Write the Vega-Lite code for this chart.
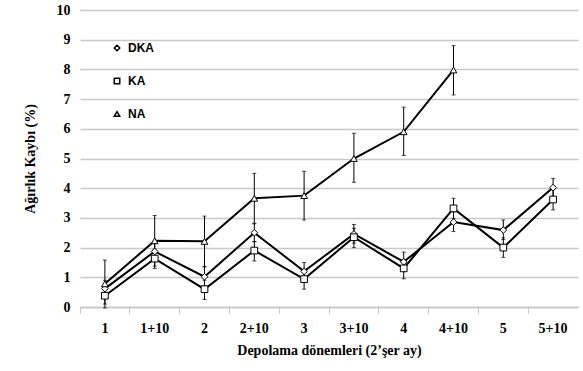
{
  "$schema": "https://vega.github.io/schema/vega-lite/v6.json",
  "width": 498,
  "height": 297,
  "autosize": "none",
  "padding": {"left": 80, "top": 10, "right": 5, "bottom": 64},
  "background": "white",
  "config": {
    "view": {"stroke": null},
    "axis": {"labelFont": "Liberation Serif", "titleFont": "Liberation Serif", "labelFontWeight": "bold", "titleFontWeight": "bold", "labelColor": "black", "titleColor": "black", "labelFontSize": 14, "titleFontSize": 14}
  },
  "data": {
    "values": [
      {"cat": "1", "series": "DKA", "v": 0.62, "lo": 0.35, "hi": 0.9},
      {"cat": "1+10", "series": "DKA", "v": 1.87, "lo": 1.55, "hi": 2.15},
      {"cat": "2", "series": "DKA", "v": 1.02, "lo": 0.72, "hi": 1.35},
      {"cat": "2+10", "series": "DKA", "v": 2.5, "lo": 2.2, "hi": 2.8},
      {"cat": "3", "series": "DKA", "v": 1.2, "lo": 0.9, "hi": 1.5},
      {"cat": "3+10", "series": "DKA", "v": 2.46, "lo": 2.15, "hi": 2.78},
      {"cat": "4", "series": "DKA", "v": 1.52, "lo": 1.2, "hi": 1.85},
      {"cat": "4+10", "series": "DKA", "v": 2.86, "lo": 2.54, "hi": 3.2},
      {"cat": "5", "series": "DKA", "v": 2.59, "lo": 2.27, "hi": 2.93},
      {"cat": "5+10", "series": "DKA", "v": 4.02, "lo": 3.7, "hi": 4.33},
      {"cat": "1", "series": "KA", "v": 0.38, "lo": 0.1, "hi": 0.65},
      {"cat": "1+10", "series": "KA", "v": 1.63, "lo": 1.3, "hi": 1.95},
      {"cat": "2", "series": "KA", "v": 0.6, "lo": 0.25, "hi": 0.9},
      {"cat": "2+10", "series": "KA", "v": 1.9, "lo": 1.55, "hi": 2.2},
      {"cat": "3", "series": "KA", "v": 0.94, "lo": 0.6, "hi": 1.25},
      {"cat": "3+10", "series": "KA", "v": 2.35, "lo": 2.0, "hi": 2.65},
      {"cat": "4", "series": "KA", "v": 1.3, "lo": 0.95, "hi": 1.6},
      {"cat": "4+10", "series": "KA", "v": 3.32, "lo": 2.98, "hi": 3.66},
      {"cat": "5", "series": "KA", "v": 2.0, "lo": 1.67, "hi": 2.33},
      {"cat": "5+10", "series": "KA", "v": 3.62, "lo": 3.27, "hi": 3.95},
      {"cat": "1", "series": "NA", "v": 0.78, "lo": -0.03, "hi": 1.58},
      {"cat": "1+10", "series": "NA", "v": 2.23, "lo": 1.38, "hi": 3.08},
      {"cat": "2", "series": "NA", "v": 2.21, "lo": 1.36, "hi": 3.06},
      {"cat": "2+10", "series": "NA", "v": 3.66, "lo": 2.82, "hi": 4.5},
      {"cat": "3", "series": "NA", "v": 3.75, "lo": 2.93, "hi": 4.57},
      {"cat": "3+10", "series": "NA", "v": 5.0, "lo": 4.2, "hi": 5.85},
      {"cat": "4", "series": "NA", "v": 5.9, "lo": 5.1, "hi": 6.73},
      {"cat": "4+10", "series": "NA", "v": 7.98, "lo": 7.14, "hi": 8.8}
    ]
  },
  "encoding": {
    "x": {
      "field": "cat", "type": "ordinal", "sort": null,
      "scale": {"type": "band", "paddingInner": 0, "paddingOuter": 0},
      "axis": {"title": "Depolama dönemleri (2’şer ay)", "labelAngle": 0, "bandPosition": 0, "tickColor": "#c8c8c8", "tickSize": 6, "domainColor": "#c8c8c8", "domainWidth": 1.5, "labelPadding": 8, "titlePadding": 8, "grid": false}
    }
  },
  "layer": [
    {
      "mark": {"type": "rule", "color": "black", "strokeWidth": 1},
      "encoding": {
        "y": {"field": "lo", "type": "quantitative", "scale": {"domain": [0, 10]}, "axis": {"title": "Ağırlık Kaybı (%)", "tickCount": 10, "ticks": false, "domain": false, "gridColor": "#c8c8c8", "gridWidth": 1.5, "labelPadding": 10, "titlePadding": 19}},
        "y2": {"field": "hi"}
      }
    },
    {
      "mark": {"type": "tick", "color": "black", "size": 4, "thickness": 1},
      "encoding": {"y": {"field": "lo", "type": "quantitative"}}
    },
    {
      "mark": {"type": "tick", "color": "black", "size": 4, "thickness": 1},
      "encoding": {"y": {"field": "hi", "type": "quantitative"}}
    },
    {
      "mark": {"type": "line", "color": "black", "strokeWidth": 2},
      "encoding": {
        "y": {"field": "v", "type": "quantitative"},
        "detail": {"field": "series"}
      }
    },
    {
      "mark": {"type": "point", "filled": true, "fill": "white", "stroke": "black", "strokeWidth": 1, "size": 45, "opacity": 1},
      "encoding": {
        "y": {"field": "v", "type": "quantitative"},
        "shape": {
          "field": "series", "type": "nominal",
          "scale": {"domain": ["DKA", "KA", "NA"], "range": ["diamond", "square", "triangle-up"]},
          "legend": {"title": null, "orient": "none", "legendX": 31, "legendY": 32, "labelFont": "Liberation Sans", "labelFontWeight": "bold", "labelFontSize": 12, "labelColor": "black", "symbolSize": 30, "rowPadding": 21, "labelOffset": 5,
            "encode": {"symbols": {"update": {"fill": {"value": "white"}, "stroke": {"value": "black"}, "strokeWidth": {"value": 1}, "opacity": {"value": 1}}}}}
        }
      }
    }
  ]
}
